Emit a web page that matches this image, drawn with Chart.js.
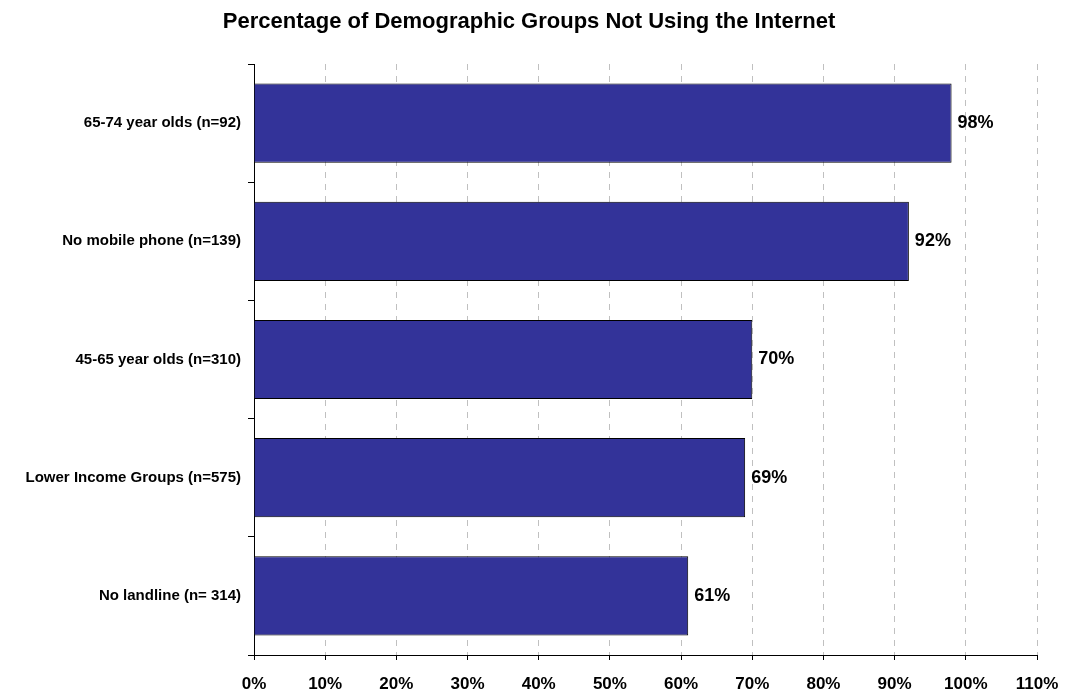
<!DOCTYPE html>
<html>
<head>
<meta charset="utf-8">
<script src="https://cdn.jsdelivr.net/npm/chart.js@4"></script>
<style>
  body { margin: 0; background: #fff; }
</style>
</head>
<body>
<canvas id="chart" width="1070" height="692"></canvas>
<script>
const categories = [
    '65-74 year olds (n=92)',
    'No mobile phone (n=139)',
    '45-65 year olds (n=310)',
    'Lower Income Groups (n=575)',
    'No landline (n= 314)'
];
const notUsing = [98, 92, 70, 69, 61];
const xTicks = [0, 10, 20, 30, 40, 50, 60, 70, 80, 90, 100, 110];

const FONT = '"Liberation Sans", Arial, sans-serif';

// labels at the end of each bar
const barLabels = {
    id: 'barLabels',
    afterDatasetsDraw(chart) {
        const ctx = chart.ctx;
        const meta = chart.getDatasetMeta(0);
        ctx.save();
        ctx.font = 'bold 18px ' + FONT;
        ctx.fillStyle = '#000';
        ctx.textAlign = 'left';
        ctx.textBaseline = 'middle';
        meta.data.forEach((bar, i) => {
            ctx.fillText(notUsing[i] + '%', bar.x + 6, bar.y);
        });
        ctx.restore();
    }
};

const ctx = document.getElementById('chart').getContext('2d');
new Chart(ctx, {
    type: 'bar',
    data: {
        labels: categories,
        datasets: [{
            data: notUsing,
            backgroundColor: '#333399',
            borderColor: '#000',
            borderWidth: 1,
            barPercentage: 0.67,
            categoryPercentage: 1
        }]
    },
    options: {
        indexAxis: 'y',
        responsive: false,
        animation: false,
        layout: {
            padding: { left: 21, right: 33, top: 0, bottom: 0 }
        },
        plugins: {
            legend: { display: false },
            tooltip: { enabled: false },
            title: {
                display: true,
                text: 'Percentage of Demographic Groups Not Using the Internet',
                color: '#000',
                font: { family: FONT, size: 22, weight: 'bold' },
                padding: { top: 9, bottom: 28.6 }
            }
        },
        scales: {
            x: {
                min: 0,
                max: 110,
                afterBuildTicks(scale) {
                    scale.ticks = xTicks.map(v => ({ value: v }));
                },
                afterFit(scale) {
                    scale.height = 37;
                    scale.paddingRight = 0;
                    scale.paddingLeft = 0;
                },
                ticks: {
                    color: '#000',
                    padding: 14,
                    maxRotation: 0,
                    font: { family: FONT, size: 17, weight: 'bold' },
                    callback: v => v + '%'
                },
                grid: {
                    color: '#c0c0c0',
                    tickColor: '#000',
                    tickBorderDash: [],
                    tickLength: 5
                },
                border: { color: '#000', width: 1, dash: [6, 6] }
            },
            y: {
                afterFit(scale) {
                    scale.width = 233;
                },
                ticks: {
                    color: '#000',
                    padding: 7,
                    font: { family: FONT, size: 15, weight: 'bold' }
                },
                grid: {
                    drawOnChartArea: false,
                    offset: true,
                    color: '#000',
                    tickLength: 6
                },
                border: { color: '#000', width: 1 }
            }
        }
    },
    plugins: [barLabels]
});
</script>
</body>
</html>
